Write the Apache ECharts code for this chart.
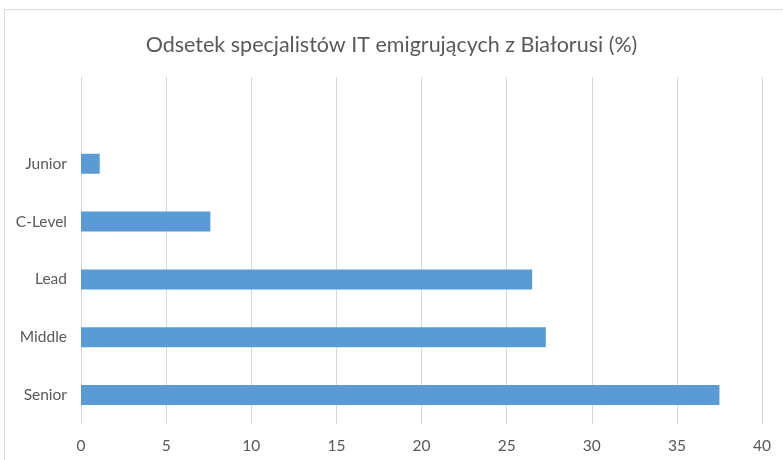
<!DOCTYPE html>
<html><head><meta charset="utf-8">
<script src="https://cdn.jsdelivr.net/npm/echarts@6/dist/echarts.min.js"></script>
<style>html,body{margin:0;padding:0;background:#fff}#c{width:783px;height:460px}</style>
</head><body><div id="c"></div>
<script>
const categories = ['Senior', 'Middle', 'Lead', 'C-Level', 'Junior', ''];
const values = [37.5, 27.3, 26.5, 7.6, 1.1, null];
const xTicks = [0, 5, 10, 15, 20, 25, 30, 35, 40];
const titleText = 'Odsetek specjalistów IT emigrujących z Białorusi (%)';

const chart = echarts.init(document.getElementById('c'), null, {renderer: 'canvas'});
const font = 'Lato, "Open Sans", sans-serif';
chart.setOption({
  animation: false,
  title: {
    text: titleText, left: 'center', top: 29,
    textStyle: {fontFamily: font, fontSize: 21.5, fontWeight: 'normal', color: '#595959'}
  },
  graphic: [{
    type: 'rect', shape: {x: 4.5, y: 9.5, width: 800, height: 500},
    style: {fill: 'none', stroke: '#d9d9d9', lineWidth: 1}, silent: true
  }],
  grid: {left: 81, right: 21, top: 77, bottom: 36, containLabel: false},
  xAxis: {
    type: 'value', min: xTicks[0], max: xTicks[xTicks.length - 1], interval: 5,
    axisLine: {show: false}, axisTick: {show: false},
    splitLine: {lineStyle: {color: '#d9d9d9', width: 1}},
    axisLabel: {fontFamily: font, fontSize: 15.5, color: '#595959', margin: 14}
  },
  yAxis: {
    type: 'category', data: categories,
    axisLine: {show: false}, axisTick: {show: false},
    axisLabel: {fontFamily: font, fontSize: 15.5, color: '#595959', margin: 14}
  },
  series: [{
    type: 'bar', data: values, barWidth: 20,
    itemStyle: {color: '#5b9bd5'}
  }]
});
</script></body></html>
